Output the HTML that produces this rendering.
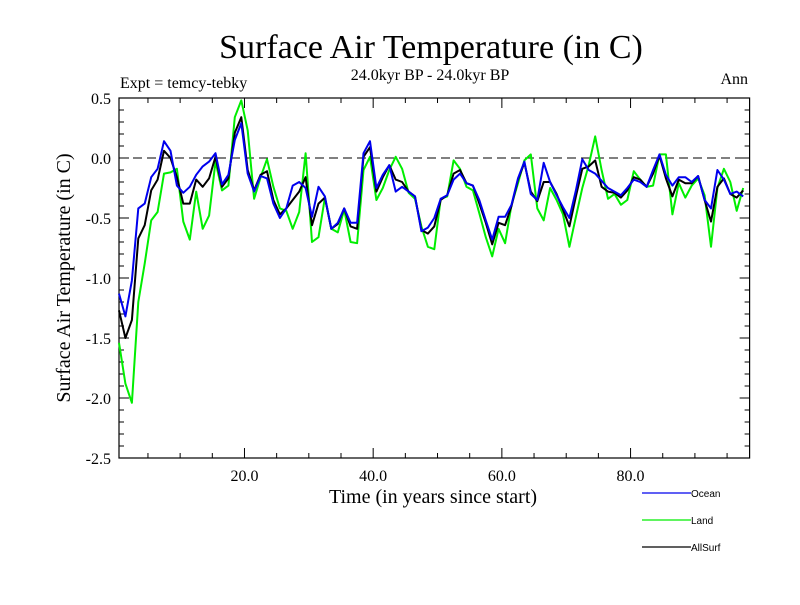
<!DOCTYPE html>
<html><head><meta charset="utf-8"><style>
body{margin:0;background:#fff;}
svg text{font-family:"Liberation Serif",serif;}
</style></head><body>
<svg id="chart" width="800" height="600" xmlns="http://www.w3.org/2000/svg">
<rect width="800" height="600" fill="#fff"/>
<text x="431" y="58" font-size="34" text-anchor="middle">Surface Air Temperature (in C)</text>
<text x="430" y="80" font-size="16" text-anchor="middle">24.0kyr BP - 24.0kyr BP</text>
<text x="120" y="88" font-size="16">Expt = temcy-tebky</text>
<text x="748" y="84" font-size="16" text-anchor="end">Ann</text>
<text transform="translate(70,278) rotate(-90)" font-size="20" text-anchor="middle">Surface Air Temperature (in C)</text>
<text x="433" y="503" font-size="20" text-anchor="middle">Time (in years since start)</text>
<g id="axes"></g>
<g id="series"></g>
<g id="legend"></g>
</svg>
<script>
const ocean = [-1.13,-1.32,-1.02,-0.42,-0.38,-0.16,-0.09,0.14,0.06,-0.23,-0.29,-0.24,-0.14,-0.07,-0.03,0.04,-0.22,-0.14,0.15,0.29,-0.13,-0.28,-0.15,-0.17,-0.38,-0.50,-0.42,-0.23,-0.20,-0.25,-0.49,-0.24,-0.32,-0.59,-0.54,-0.42,-0.54,-0.54,0.04,0.14,-0.25,-0.14,-0.06,-0.28,-0.24,-0.28,-0.32,-0.61,-0.58,-0.50,-0.34,-0.31,-0.18,-0.13,-0.21,-0.23,-0.35,-0.52,-0.68,-0.49,-0.49,-0.39,-0.17,-0.03,-0.30,-0.35,-0.04,-0.20,-0.31,-0.41,-0.50,-0.27,-0.01,-0.10,-0.13,-0.19,-0.25,-0.28,-0.31,-0.25,-0.18,-0.20,-0.24,-0.10,0.03,-0.14,-0.23,-0.16,-0.16,-0.20,-0.15,-0.35,-0.42,-0.10,-0.18,-0.30,-0.28,-0.32];
const land = [-1.54,-1.88,-2.04,-1.20,-0.88,-0.52,-0.45,-0.13,-0.12,-0.09,-0.53,-0.68,-0.28,-0.59,-0.48,-0.03,-0.27,-0.23,0.34,0.48,0.23,-0.34,-0.16,-0.01,-0.24,-0.42,-0.44,-0.59,-0.45,0.04,-0.70,-0.66,-0.33,-0.59,-0.62,-0.43,-0.70,-0.71,-0.10,0.01,-0.35,-0.25,-0.10,0.01,-0.09,-0.29,-0.34,-0.57,-0.74,-0.76,-0.34,-0.32,-0.02,-0.09,-0.24,-0.27,-0.46,-0.66,-0.82,-0.59,-0.71,-0.39,-0.21,-0.02,0.03,-0.42,-0.52,-0.25,-0.35,-0.47,-0.74,-0.49,-0.25,-0.06,0.18,-0.10,-0.34,-0.30,-0.39,-0.35,-0.11,-0.18,-0.24,-0.23,0.03,0.03,-0.47,-0.21,-0.33,-0.23,-0.17,-0.31,-0.74,-0.25,-0.09,-0.20,-0.44,-0.25];
const allsurf = [-1.27,-1.50,-1.35,-0.67,-0.56,-0.27,-0.18,0.06,0.00,-0.16,-0.38,-0.38,-0.18,-0.24,-0.17,0.01,-0.24,-0.17,0.21,0.34,-0.10,-0.27,-0.14,-0.11,-0.35,-0.47,-0.42,-0.35,-0.28,-0.16,-0.56,-0.38,-0.33,-0.59,-0.55,-0.42,-0.57,-0.59,0.01,0.09,-0.28,-0.16,-0.06,-0.18,-0.20,-0.28,-0.32,-0.60,-0.63,-0.57,-0.35,-0.31,-0.13,-0.10,-0.21,-0.23,-0.38,-0.54,-0.72,-0.54,-0.56,-0.40,-0.18,-0.04,-0.28,-0.36,-0.20,-0.20,-0.30,-0.43,-0.57,-0.32,-0.09,-0.07,-0.02,-0.24,-0.28,-0.29,-0.33,-0.27,-0.16,-0.18,-0.24,-0.13,0.02,-0.17,-0.32,-0.18,-0.21,-0.21,-0.15,-0.35,-0.53,-0.24,-0.17,-0.30,-0.33,-0.27];
const xTicks = [20,40,60,80];
const xTickLabels = ["20.0","40.0","60.0","80.0"];
const yTicks = [0.5,0,-0.5,-1,-1.5,-2,-2.5];
const yTickLabels = ["0.5","0.0","-0.5","-1.0","-1.5","-2.0","-2.5"];

const NS="http://www.w3.org/2000/svg";
const L=119,R=749.6,T=98,B=458,X0=0.5,X1=98.5,Y0=-2.5,Y1=0.5;
const xs=v=>L+(v-X0)/(X1-X0)*(R-L);
const ys=v=>B-(v-Y0)/(Y1-Y0)*(B-T);
function mk(tag,attrs,parent){const e=document.createElementNS(NS,tag);for(const k in attrs)e.setAttribute(k,attrs[k]);parent.appendChild(e);return e;}
const axes=document.getElementById('axes');
const frame=mk('rect',{x:L,y:T,width:R-L,height:B-T,fill:'none',stroke:'#000','stroke-width':1.2},axes);


const zero=mk('line',{x1:L,x2:R,y1:ys(0),y2:ys(0),stroke:'#000','stroke-dasharray':'9,5','stroke-width':1},axes);


for(let v=5;v<X1;v+=5){const major=xTicks.includes(v);const len=major?10:5;
 mk('line',{x1:xs(v),x2:xs(v),y1:B,y2:B-len,stroke:'#000'},axes);
 mk('line',{x1:xs(v),x2:xs(v),y1:T,y2:T+len,stroke:'#000'},axes);}
xTicks.forEach((v,i)=>{const t=mk('text',{x:xs(v),y:B+23,'font-size':16,'text-anchor':'middle'},axes);t.textContent=xTickLabels[i];
 
 });
for(let k=-25;k<=5;k++){const v=k/10;const major=(k%5===0);const len=major?10:5;
 mk('line',{x1:L,x2:L+len,y1:ys(v),y2:ys(v),stroke:'#000'},axes);
 mk('line',{x1:R,x2:R-len,y1:ys(v),y2:ys(v),stroke:'#000'},axes);}
yTicks.forEach((v,i)=>{const t=mk('text',{x:L-8,y:ys(v)+6,'font-size':16,'text-anchor':'end'},axes);t.textContent=yTickLabels[i];
 
 });
const ser=document.getElementById('series');
function line(data,color,name){const p=data.map((v,i)=>xs(i+0.5).toFixed(1)+','+ys(v).toFixed(1)).join(' ');
 const e=mk('polyline',{points:p,fill:'none',stroke:color,'stroke-width':2,'stroke-linejoin':'round'},ser);
 
 }
line(land,'#00ee00','land-line');
line(allsurf,'#000000','allsurf-line');
line(ocean,'#0000ee','ocean-line');
const leg=document.getElementById('legend');
[['Ocean','#0000ee',493],['Land','#00ee00',520],['AllSurf','#000000',547]].forEach(([n,c,y])=>{
 const g=mk('g',{},leg);
 
 
 mk('line',{x1:642,x2:691,y1:y,y2:y,stroke:c,'stroke-width':1.2},g);
 const t=mk('text',{x:691,y:y+4,'font-size':10,style:'font-family:"Liberation Sans",sans-serif'},g);t.textContent=n;});
</script>
</body></html>
